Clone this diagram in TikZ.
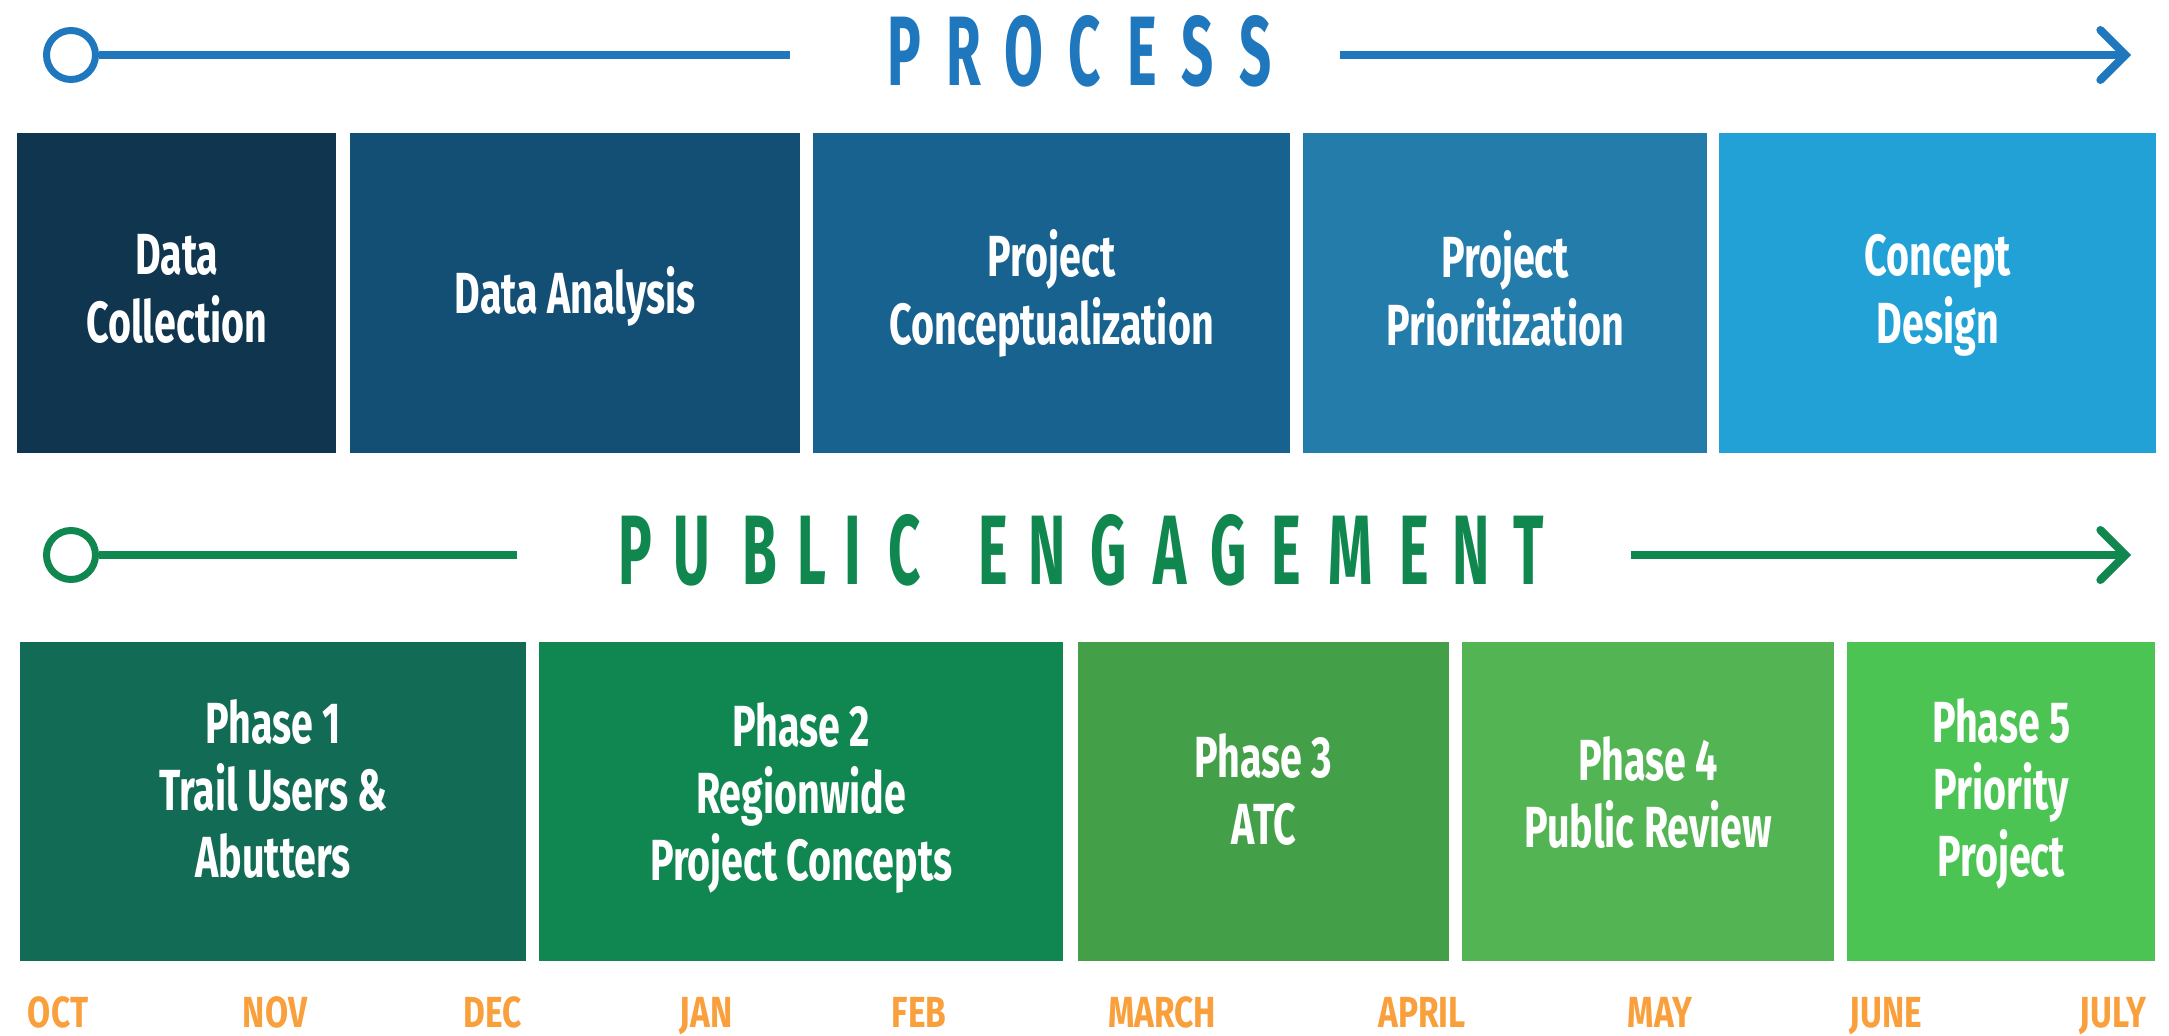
\documentclass[tikz,border=0pt]{standalone}
\usepackage{fontspec}
\setmainfont{Fira Sans}
\usepackage{graphicx}
\usetikzlibrary{arrows.meta}
\definecolor{pblue}{HTML}{1F77BD}
\definecolor{dA}{HTML}{10354F}
\definecolor{dB}{HTML}{134F75}
\definecolor{dC}{HTML}{17628F}
\definecolor{dD}{HTML}{237CAA}
\definecolor{dE}{HTML}{21A1D6}
\definecolor{pgreen}{HTML}{10874F}
\definecolor{gA}{HTML}{116B55}
\definecolor{gB}{HTML}{108751}
\definecolor{gC}{HTML}{439F48}
\definecolor{gD}{HTML}{52B453}
\definecolor{gE}{HTML}{4BC454}
\definecolor{orng}{HTML}{F9A03C}
\newcommand{\cnd}[1]{\scalebox{0.68}[1]{#1}}
\newcommand{\hdl}[1]{\scalebox{0.57}[1]{#1}}
\newcommand{\mnt}[1]{\scalebox{0.77}[1]{#1}}
\begin{document}
\begin{tikzpicture}[x=1pt,y=1pt,
  box/.style={draw=none, inner sep=0pt, anchor=north west},
  lbl/.style={text=white, align=center, inner sep=0pt, font=\fontsize{58}{68}\selectfont\bfseries},
  glbl/.style={lbl, font=\fontsize{58}{67}\selectfont\bfseries},
  hdr/.style={anchor=base, inner sep=0pt, font=\fontsize{98.7}{100}\selectfont\bfseries},
  mon/.style={anchor=base, inner sep=0pt, text=orng, font=\fontsize{43.5}{45}\selectfont\bfseries},
  ring/.style={circle, draw, line width=7pt, minimum size=49pt, inner sep=0pt},
  hline/.style={line width=8pt},
  tip/.style={-{Straight Barb[length=25pt,width=50pt,line cap=round]}}
]
\useasboundingbox (0,0) rectangle (2169,-1036);
\fill[white] (0,0) rectangle (2169,-1036);

% ---------- PROCESS header ----------
\node[ring, draw=pblue] (c1) at (71,-55) {};
\coordinate (l1e) at (790,-55);
\coordinate (r1s) at (1340,-55);
\coordinate (r1e) at (2131,-55);
\draw[hline, pblue] (c1.east) -- (l1e);
\draw[hline, pblue, tip] (r1s) -- (r1e);
\foreach \ch/\x [count=\i] in {P/904.5, R/963.5, O/1024, C/1084.5, E/1142.5, S/1197.5, S/1255.5}
  \node[hdr, text=pblue] (hp\i) at (\x,-85) {\hdl{\ch}};

% ---------- process boxes ----------
\node[box, fill=dA, minimum width=319pt, minimum height=320pt] (b1) at (17,-133) {};
\node[box, fill=dB, minimum width=450pt, minimum height=320pt] (b2) at (350,-133) {};
\node[box, fill=dC, minimum width=477pt, minimum height=320pt] (b3) at (813,-133) {};
\node[box, fill=dD, minimum width=404pt, minimum height=320pt] (b4) at (1303,-133) {};
\node[box, fill=dE, minimum width=437pt, minimum height=320pt] (b5) at (1719,-133) {};
\node[lbl, yshift=4pt] (t1) at (b1.center) {\cnd{Data}\\\cnd{Collection}};
\node[lbl, yshift=-3pt] (t2) at (b2.center) {\cnd{Data Analysis}};
\node[lbl] (t3) at (b3.center) {\cnd{Project}\\\cnd{Conceptualization}};
\node[lbl, yshift=5pt] (t4) at (b4.center) {\cnd{Project}\\\cnd{Prioritization}};
\node[lbl, yshift=-2pt] (t5) at (b5.center) {\cnd{Concept}\\\cnd{Design}};

% ---------- PUBLIC ENGAGEMENT header ----------
\node[ring, draw=pgreen] (c2) at (71,-555) {};
\coordinate (l2e) at (517,-555);
\coordinate (r2s) at (1631,-555);
\coordinate (r2e) at (2131,-555);
\draw[hline, pgreen] (c2.east) -- (l2e);
\draw[hline, pgreen, tip] (r2s) -- (r2e);
\foreach \ch/\x [count=\i] in {P/635, U/692, B/760, L/812, I/852.5, C/905, E/993.5, N/1047.5, G/1109, A/1170, G/1228.5, E/1286, M/1351, E/1414, N/1471.5, T/1529}
  \node[hdr, text=pgreen] (hg\i) at (\x,-584) {\hdl{\ch}};

% ---------- engagement boxes ----------
\node[box, fill=gA, minimum width=506pt, minimum height=319pt] (g1) at (20,-642) {};
\node[box, fill=gB, minimum width=524pt, minimum height=319pt] (g2) at (539,-642) {};
\node[box, fill=gC, minimum width=371pt, minimum height=319pt] (g3) at (1078,-642) {};
\node[box, fill=gD, minimum width=372pt, minimum height=319pt] (g4) at (1462,-642) {};
\node[box, fill=gE, minimum width=308pt, minimum height=319pt] (g5) at (1847,-642) {};
\node[glbl, yshift=12.5pt] (p1) at (g1.center) {\cnd{Phase 1}\\\cnd{Trail Users \&}\\\cnd{Abutters}};
\node[glbl, yshift=3.5pt] (p2) at (g2.center) {\cnd{Phase 2}\\\cnd{Regionwide}\\\cnd{Project Concepts}};
\node[glbl, yshift=12pt] (p3) at (g3.center) {\cnd{Phase 3}\\\cnd{ATC}};
\node[glbl, yshift=9pt] (p4) at (g4.center) {\cnd{Phase 4}\\\cnd{Public Review}};
\node[glbl, yshift=7.5pt] (p5) at (g5.center) {\cnd{Phase 5}\\\cnd{Priority}\\\cnd{Project}};

% ---------- months ----------
\foreach \m/\x [count=\i] in {OCT/58, NOV/275, DEC/493, JAN/706, FEB/919, MARCH/1162, APRIL/1422, MAY/1660, JUNE/1886, JULY/2113}
  \node[mon] (m\i) at (\x,-1027) {\mnt{\m}};
\end{tikzpicture}
\end{document}
